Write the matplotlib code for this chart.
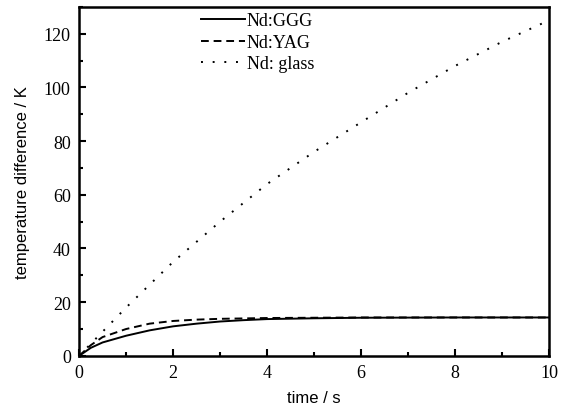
import matplotlib.pyplot as plt
from matplotlib.ticker import MultipleLocator

t_ggg = [0, 0.25, 0.5, 1, 1.5, 2, 2.5, 3, 3.5, 4, 5, 6, 8, 10]
dT_ggg = [0, 3, 5, 7.5, 9.5, 11, 12, 12.8, 13.3, 13.7, 14, 14.2, 14.3, 14.3]

t_yag = [0, 0.25, 0.5, 1, 1.5, 2, 2.5, 3, 4, 5, 6, 8, 10]
dT_yag = [0, 4, 7, 10, 12, 13, 13.5, 13.8, 14.1, 14.2, 14.3, 14.3, 14.3]

t_glass = [0, 1, 2, 3, 4, 5, 6, 7, 8, 9, 10]
dT_glass = [0, 18, 35, 50, 64, 76, 87, 98, 108, 117, 125]

serif = 'Liberation Serif'
sans = 'Liberation Sans'

fig = plt.figure(figsize=(5.69, 4.14), dpi=100)
ax = fig.add_axes([0.139, 0.138, 0.826, 0.843])

ax.plot(t_ggg, dT_ggg, color='black', linestyle='-', linewidth=1.4, label='Nd:GGG')
ax.plot(t_yag, dT_yag, color='black', linestyle=(0, (4, 2.5)), linewidth=1.4, label='Nd:YAG')
ax.plot(t_glass, dT_glass, color='black', linestyle=(0, (1, 5)), linewidth=1.4, label='Nd: glass')

ax.set_xlim(0, 10)
ax.set_ylim(0, 130)
ax.xaxis.set_major_locator(MultipleLocator(2))
ax.xaxis.set_minor_locator(MultipleLocator(1))
ax.yaxis.set_major_locator(MultipleLocator(20))
ax.yaxis.set_minor_locator(MultipleLocator(10))
ax.tick_params(which='both', direction='in', top=False, right=False, width=1.5)
ax.tick_params(which='major', length=5, labelsize=13, pad=6)
ax.tick_params(which='minor', length=3)
for lab in ax.get_xticklabels() + ax.get_yticklabels():
    lab.set_family(serif)
for sp in ax.spines.values():
    sp.set_linewidth(1.8)

ax.set_xlabel('time / s', fontsize=12, family=sans, labelpad=6)
ax.set_ylabel('temperature difference / K', fontsize=12, family=sans, labelpad=10)

leg = ax.legend(loc='upper left', bbox_to_anchor=(0.245, 1.005), frameon=False,
                prop={'family': serif, 'size': 13}, handlelength=2.4,
                handletextpad=0.1, labelspacing=0.25, borderaxespad=0.0)

fig.savefig('out.png', dpi=100)
